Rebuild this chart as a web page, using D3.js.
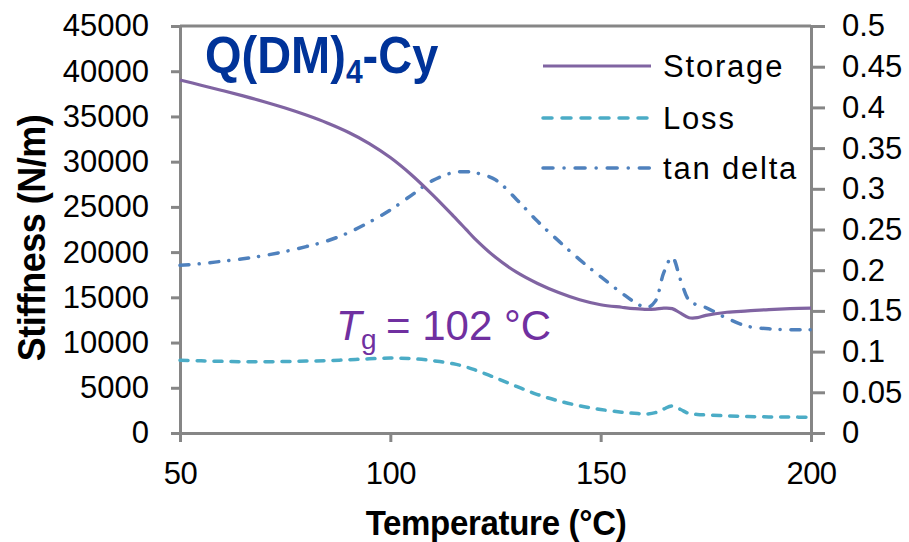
<!DOCTYPE html>
<html>
<head>
<meta charset="utf-8">
<script src="https://cdn.jsdelivr.net/npm/d3@7"></script>
<style>
  html, body { margin: 0; padding: 0; background: #fff; }
  svg { display: block; font-family: "Liberation Sans", Arial, sans-serif; }
</style>
</head>
<body>
<svg id="chart" width="909" height="542"></svg>
<script>
// ---- data ----
const temperature = [50,55,60,65,70,75,80,85,90,95,100,105,110,115,118,120,125,130,135,140,145,150,155,158,161,163,165,167,169,171,173,175,180,185,190,195,200];
const storage = [39030,38455,37870,37270,36630,35930,35155,34280,33255,32005,30455,28555,26355,23980,22510,21530,19430,17780,16530,15530,14730,14180,13900,13750,13660,13700,13800,13750,13250,12750,12750,13000,13350,13500,13650,13750,13800];
const loss = [8050,7980,7920,7880,7880,7900,7950,8000,8100,8200,8280,8230,8000,7650,7300,7000,6100,5150,4250,3550,3000,2600,2300,2180,2100,2250,2650,3000,2600,2150,2050,2000,1900,1820,1780,1760,1750];
const tanDelta = [0.206,0.208,0.211,0.214,0.218,0.223,0.229,0.236,0.246,0.259,0.274,0.292,0.310,0.320,0.321,0.320,0.311,0.287,0.260,0.236,0.213,0.192,0.172,0.161,0.154,0.162,0.197,0.216,0.188,0.163,0.157,0.154,0.141,0.131,0.128,0.127,0.127];
const xTicks = [50,100,150,200];
const leftTicks = [0,5000,10000,15000,20000,25000,30000,35000,40000,45000];
const rightTicks = [0,0.05,0.1,0.15,0.2,0.25,0.3,0.35,0.4,0.45,0.5];
const seriesNames = ["Storage","Loss","tan delta"];

// ---- layout ----
const svg = d3.select("#chart");
const L = 180, R = 811, T = 26, B = 433;
const axisColor = "#868686";
const x = d3.scaleLinear().domain([50,200]).range([L,R]);
const yL = d3.scaleLinear().domain([0,45000]).range([B,T]);
const yR = d3.scaleLinear().domain([0,0.5]).range([B,T]);

svg.append("rect").attr("width",909).attr("height",542).attr("fill","#fff");

function styleAxis(g, size) {
  g.selectAll("path.domain").attr("stroke",axisColor).attr("stroke-width",3);
  g.selectAll(".tick line").attr("stroke",axisColor).attr("stroke-width",3);
  g.selectAll(".tick text").attr("fill","#000").attr("font-size",size)
    .attr("font-family","'Liberation Sans', Arial, sans-serif");
}

// top border
svg.append("line").attr("x1",L).attr("x2",R).attr("y1",T).attr("y2",T)
  .attr("stroke",axisColor).attr("stroke-width",3);

const gx = svg.append("g").attr("transform",`translate(0,${B})`)
  .call(d3.axisBottom(x).tickValues(xTicks).tickSize(9).tickSizeOuter(0).tickPadding(20));
styleAxis(gx, 31);
gx.selectAll(".tick text").attr("dy","0.71em").attr("y",29).attr("letter-spacing","-0.5");

const gl = svg.append("g").attr("transform",`translate(${L},0)`)
  .call(d3.axisLeft(yL).tickValues(leftTicks).tickSize(9).tickSizeOuter(0).tickPadding(22).tickFormat(d3.format("d")));
styleAxis(gl, 31);

const gr = svg.append("g").attr("transform",`translate(${R},0)`)
  .call(d3.axisRight(yR).tickValues(rightTicks).tickSize(14).tickSizeOuter(0).tickPadding(17).tickFormat(d => d3.format("")(+d.toFixed(2))));
styleAxis(gr, 31);

// ---- series ----
const colors = { storage: "#8064A2", loss: "#4BACC6", tan: "#4F81BD" };
const curve = d3.curveCatmullRom.alpha(0.5);
const lineS = d3.line().x((d,i)=>x(temperature[i])).y(d=>yL(d)).curve(curve);
const lineR = d3.line().x((d,i)=>x(temperature[i])).y(d=>yR(d)).curve(curve);

svg.append("path").attr("d",lineS(loss)).attr("fill","none")
  .attr("stroke",colors.loss).attr("stroke-width",3.5)
  .attr("stroke-dasharray","8,9").attr("stroke-linecap","round");
svg.append("path").attr("d",lineR(tanDelta)).attr("fill","none")
  .attr("stroke",colors.tan).attr("stroke-width",3.5)
  .attr("stroke-dasharray","9,10,0.1,10.9").attr("stroke-linecap","round");
svg.append("path").attr("d",lineS(storage)).attr("fill","none")
  .attr("stroke",colors.storage).attr("stroke-width",3.2);

// ---- legend ----
const legendStyles = [
  {color: colors.storage, dash: null, w: 3.2},
  {color: colors.loss, dash: "9,10", w: 3.5},
  {color: colors.tan, dash: "10,11,0.1,11", w: 3.5}
];
const legendY = [66,118,168];
seriesNames.forEach((name,i) => {
  const s = legendStyles[i];
  svg.append("line").attr("x1",543).attr("x2",651).attr("y1",legendY[i]).attr("y2",legendY[i])
    .attr("stroke",s.color).attr("stroke-width",s.w)
    .attr("stroke-dasharray",s.dash).attr("stroke-linecap", s.dash ? "round" : "butt");
  svg.append("text").attr("x",663).attr("y",legendY[i]).attr("dy","0.36em")
    .attr("font-size",31).attr("letter-spacing",1.8).attr("fill","#000").text(name);
});

// ---- title ----
const title = svg.append("text").attr("transform","translate(205,73) scale(1,1.12)")
  .attr("font-size",47).attr("font-weight","bold").attr("fill","#003399");
title.append("tspan").text("Q(DM)");
title.append("tspan").attr("font-size",30).attr("dy",9).text("4");
title.append("tspan").attr("dy",-9).text("-Cy");

// ---- Tg annotation ----
const tg = svg.append("text").attr("y",340).attr("font-size",42).attr("fill","#7030A0");
tg.append("tspan").attr("x",336).attr("font-style","italic").text("T");
tg.append("tspan").attr("x",361).attr("dy",9).attr("font-size",28).text("g");
tg.append("tspan").attr("x",386).attr("dy",-9).text("= 102 °C");

// ---- axis titles ----
svg.append("text").attr("transform","translate(496,535) scale(1,1.07)")
  .attr("text-anchor","middle").attr("font-size",33).attr("font-weight","bold")
  .attr("letter-spacing","-0.3").text("Temperature (°C)");
svg.append("text").attr("transform","translate(45,238) rotate(-90) scale(1,1.08)")
  .attr("text-anchor","middle").attr("font-size",36).attr("font-weight","bold")
  .attr("letter-spacing","-0.5").text("Stiffness (N/m)");
</script>
</body>
</html>
